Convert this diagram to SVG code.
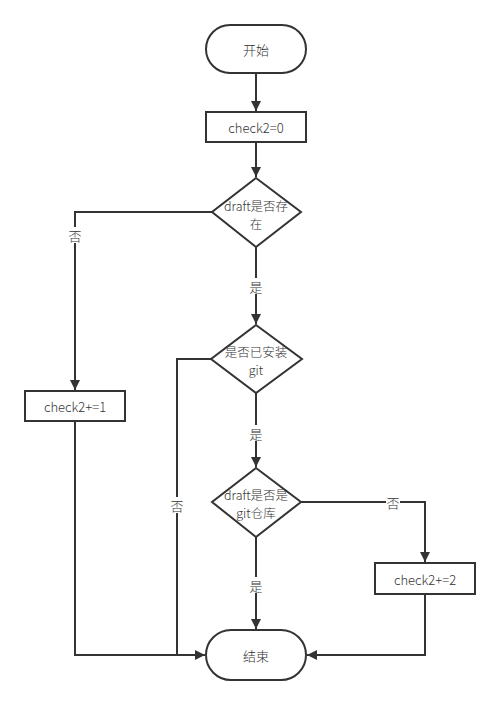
<svg xmlns="http://www.w3.org/2000/svg" width="500" height="705" viewBox="0 0 500 705">
<style>
.s{fill:#fff;stroke:#333;stroke-width:2}
.c{fill:none;stroke:#333;stroke-width:2}
.t{font-family:"Noto Sans CJK SC","Liberation Sans",sans-serif;font-size:13px;font-weight:300;fill:#333;text-anchor:middle;dominant-baseline:central}
.d{font-family:"Noto Sans CJK SC","Liberation Sans",sans-serif;font-size:12.5px;font-weight:300;fill:#333;text-anchor:middle;dominant-baseline:central}
.l{font-family:"Noto Sans CJK SC","Liberation Sans",sans-serif;font-size:13px;font-weight:300;fill:#333;text-anchor:middle;dominant-baseline:central}
.bg{fill:#fff}
</style>
<defs>
<marker id="a" viewBox="0 0 10 10" refX="10" refY="5" markerWidth="10" markerHeight="10" markerUnits="userSpaceOnUse" orient="auto">
<path d="M0,0 L10,5 L0,10 z" fill="#333"/>
</marker>
</defs>
<rect width="500" height="705" fill="#fff"/>
<g id="connectors">
<path class="c" d="M256,73 V111" marker-end="url(#a)"/>
<path class="c" d="M256,142 V177" marker-end="url(#a)"/>
<path class="c" d="M212,212 H75 V390" marker-end="url(#a)"/>
<path class="c" d="M256,247 V324" marker-end="url(#a)"/>
<path class="c" d="M211,359 H177 V655"/>
<path class="c" d="M256,393 V467" marker-end="url(#a)"/>
<path class="c" d="M301,502 H425 V562" marker-end="url(#a)"/>
<path class="c" d="M256,537 V629" marker-end="url(#a)"/>
<path class="c" d="M75,421 V655 H205" marker-end="url(#a)"/>
<path class="c" d="M425,594 V655 H307" marker-end="url(#a)"/>
<rect class="bg" x="68" y="227" width="14" height="16"/>
<text class="l" x="75" y="235">否</text>
<rect class="bg" x="249" y="278" width="14" height="16"/>
<text class="l" x="256" y="286">是</text>
<rect class="bg" x="249" y="425" width="14" height="16"/>
<text class="l" x="256" y="433">是</text>
<rect class="bg" x="170" y="497" width="14" height="16"/>
<text class="l" x="177" y="505">否</text>
<rect class="bg" x="386" y="494" width="14" height="16"/>
<text class="l" x="393" y="502">否</text>
<rect class="bg" x="249" y="577" width="14" height="16"/>
<text class="l" x="256" y="585">是</text>
</g>
<g id="start">
<rect class="s" x="206" y="25" width="100" height="48" rx="24" ry="24"/>
<text class="t" x="256" y="49">开始</text>
</g>
<g id="init">
<rect class="s" x="206" y="112" width="100" height="30"/>
<text class="t" x="256" y="127">check2=0</text>
</g>
<g id="d1">
<polygon class="s" points="256,178 301,212 256,247 212,212"/>
<text class="d" x="256" y="205">draft是否存</text>
<text class="d" x="256" y="223">在</text>
</g>
<g id="inc1">
<rect class="s" x="25" y="391" width="100" height="30"/>
<text class="t" x="75" y="406">check2+=1</text>
</g>
<g id="d2">
<polygon class="s" points="256,325 302,359 256,393 211,359"/>
<text class="d" x="256" y="351">是否已安装</text>
<text class="d" x="256" y="369">git</text>
</g>
<g id="d3">
<polygon class="s" points="256,468 301,502 256,537 212,502"/>
<text class="d" x="256" y="494">draft是否是</text>
<text class="d" x="256" y="512">git仓库</text>
</g>
<g id="inc2">
<rect class="s" x="375" y="563" width="100" height="31"/>
<text class="t" x="425" y="579">check2+=2</text>
</g>
<g id="end">
<rect class="s" x="206" y="630" width="100" height="50" rx="25" ry="25"/>
<text class="t" x="256" y="655">结束</text>
</g>
</svg>
